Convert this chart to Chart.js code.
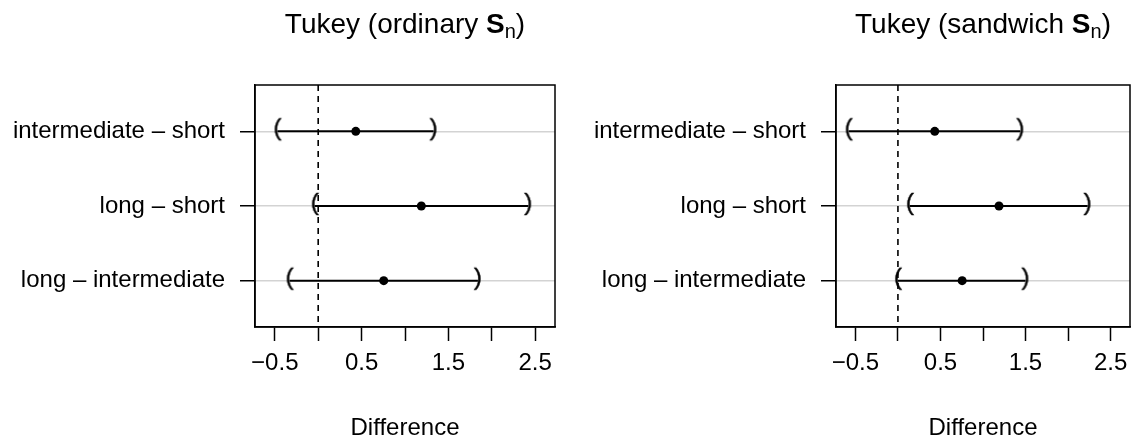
<!DOCTYPE html>
<html>
<head>
<meta charset="utf-8">
<script src="https://cdn.jsdelivr.net/npm/chart.js@4"></script>
<style>
  body { margin: 0; background: #fff; }
  canvas { position: absolute; top: 0; }
</style>
</head>
<body>
<canvas id="ordinary" width="568" height="441" style="left:0"></canvas>
<canvas id="sandwich" width="569" height="441" style="left:568px"></canvas>
<script>
// Tukey simultaneous intervals, ordinary vs sandwich covariance

const comparisons = ['intermediate – short', 'long – short', 'long – intermediate'];
const estimates = [0.433, 1.188, 0.755];
const ordinaryLower = [-0.47, -0.04, -0.33];
const ordinaryUpper = [1.33, 2.42, 1.84];
const sandwichLower = [-0.58, 0.14, 0.0];
const sandwichUpper = [1.44, 2.23, 1.50];

const xTicks = [-0.5, 0, 0.5, 1, 1.5, 2, 2.5];
const xTickLabels = ['\u22120.5', '', '0.5', '', '1.5', '', '2.5'];
const xRange = [-0.728, 2.728];
const yRange = [0.38, 3.62];
const refLine = 0;

const fam = "'Liberation Sans', Arial, Helvetica, sans-serif";
Chart.defaults.font.family = fam;
Chart.defaults.font.size = 24;
Chart.defaults.color = '#000';

function parenImage(ch) {
  const c = document.createElement('canvas');
  c.width = 16;
  c.height = 34;
  const g = c.getContext('2d');
  g.font = '24px ' + fam;
  g.textAlign = 'center';
  g.textBaseline = 'middle';
  g.fillStyle = '#000';
  g.strokeStyle = '#000';
  g.lineWidth = 0.4;
  g.fillText(ch, 8, 14);
  g.strokeText(ch, 8, 14);
  return c;
}
const leftParen = parenImage('(');
const rightParen = parenImage(')');

// title with bold S and subscript n
const mathTitle = {
  id: 'mathTitle',
  afterDraw(chart, args, opts) {
    const g = chart.ctx, a = chart.chartArea;
    const runs = [
      { text: 'Tukey (' + opts.kind + ' ', font: '28px ' + fam, dy: 0 },
      { text: 'S', font: 'bold 28px ' + fam, dy: 0 },
      { text: 'n', font: '20px ' + fam, dy: 5 },
      { text: ')', font: '28px ' + fam, dy: 0 }
    ];
    g.save();
    g.fillStyle = '#000';
    g.textBaseline = 'alphabetic';
    g.textAlign = 'left';
    let w = 0;
    runs.forEach(r => { g.font = r.font; r.w = g.measureText(r.text).width; w += r.w; });
    let x = (a.left + a.right) / 2 - w / 2;
    runs.forEach(r => { g.font = r.font; g.fillText(r.text, x, opts.baseline + r.dy); x += r.w; });
    g.restore();
  }
};

const frame = {
  id: 'frame',
  afterDatasetsDraw(chart) {
    const g = chart.ctx, a = chart.chartArea;
    g.save();
    g.strokeStyle = '#000';
    g.lineWidth = 1.5;
    g.strokeRect(a.left, a.top, a.right - a.left, a.bottom - a.top);
    g.restore();
  }
};

function makeChart(id, kind, lower, upper, yWidth, padRight) {
  const datasets = [{
    data: [{ x: refLine, y: yRange[0] }, { x: refLine, y: yRange[1] }],
    showLine: true,
    borderColor: '#000',
    borderWidth: 1.6,
    borderDash: [6, 5],
    pointRadius: 0,
    order: 3
  }];
  comparisons.forEach((c, i) => {
    datasets.push({
      data: [{ x: lower[i], y: i + 1 }, { x: upper[i], y: i + 1 }],
      showLine: true,
      borderColor: '#000',
      borderWidth: 2,
      pointStyle: ctx => ctx.dataIndex === 0 ? leftParen : rightParen,
      pointRadius: 5,
      order: 2
    });
  });
  datasets.push({
    data: estimates.map((v, i) => ({ x: v, y: i + 1 })),
    pointStyle: 'circle',
    pointRadius: 4.5,
    backgroundColor: '#000',
    borderWidth: 0,
    order: 1
  });

  return new Chart(document.getElementById(id), {
    type: 'scatter',
    data: { datasets },
    options: {
      responsive: false,
      animation: false,
      events: [],
      layout: { padding: { top: 85, right: padRight, left: 0, bottom: 0 } },
      plugins: {
        legend: { display: false },
        tooltip: { enabled: false },
        mathTitle: { kind: kind, baseline: 33 }
      },
      scales: {
        x: {
          type: 'linear',
          min: xRange[0],
          max: xRange[1],
          afterBuildTicks: s => { s.ticks = xTicks.map(v => ({ value: v })); },
          afterFit: s => { s.height = 114; },
          ticks: {
            autoSkip: false,
            maxRotation: 0,
            padding: 8,
            callback: v => xTickLabels[xTicks.indexOf(v)]
          },
          grid: { drawOnChartArea: false, tickLength: 14, tickColor: '#000', tickWidth: 1.5, color: '#000' },
          border: { color: '#000', width: 1.5 },
          title: { display: true, text: 'Difference', font: { size: 24, lineHeight: '26px' }, padding: 0 }
        },
        y: {
          type: 'linear',
          reverse: true,
          min: yRange[0],
          max: yRange[1],
          afterBuildTicks: s => { s.ticks = comparisons.map((c, i) => ({ value: i + 1 })); },
          afterFit: s => { s.width = yWidth; },
          ticks: {
            autoSkip: false,
            padding: 15,
            callback: v => comparisons[v - 1]
          },
          grid: { color: '#d3d3d3', lineWidth: 1.5, tickLength: 15, tickColor: '#000', tickWidth: 1.5 },
          border: { color: '#000', width: 1.5 }
        }
      }
    },
    plugins: [mathTitle, frame]
  });
}

makeChart('ordinary', 'ordinary', ordinaryLower, ordinaryUpper, 255, 13);
makeChart('sandwich', 'sandwich', sandwichLower, sandwichUpper, 268, 1);
</script>
</body>
</html>
